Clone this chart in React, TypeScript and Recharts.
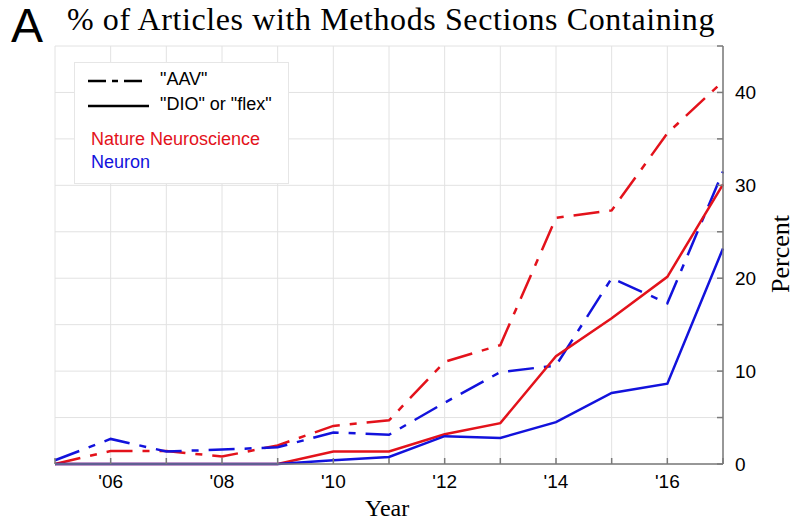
import { LineChart, Line, XAxis, YAxis, CartesianGrid } from "recharts";

const years = [2005, 2006, 2007, 2008, 2009, 2010, 2011, 2012, 2013, 2014, 2015, 2016, 2017];
const natNeuroAAV = [0, 1.4, 1.4, 0.8, 2.0, 4.1, 4.7, 11.0, 12.8, 26.5, 27.3, 35.6, 41.2];
const neuronAAV = [0.4, 2.7, 1.35, 1.55, 1.8, 3.4, 3.15, 6.6, 9.9, 10.6, 20.0, 17.3, 31.5];
const natNeuroDIO = [0, 0, 0, 0, 0, 1.35, 1.35, 3.2, 4.4, 11.6, 15.7, 20.15, 30.1];
const neuronDIO = [0, 0, 0, 0, 0, 0.4, 0.75, 3.0, 2.8, 4.5, 7.65, 8.65, 23.2];
const yTicks = [0, 5, 10, 15, 20, 25, 30, 35, 40, 45];

const data = years.map((year, i) => ({
  year,
  natNeuroAAV: natNeuroAAV[i],
  neuronAAV: neuronAAV[i],
  natNeuroDIO: natNeuroDIO[i],
  neuronDIO: neuronDIO[i],
}));

const RED = "#e3121b";
const BLUE = "#1212dc";
const DASHDOT = "26 10 7 10";
const AXIS = "#7a7a7a";

const sans = "'Liberation Sans', Arial, sans-serif";
const serif = "'Liberation Serif', 'Times New Roman', serif";

export default function App() {
  return (
    <div style={{ position: "absolute", left: 0, top: 0, width: 796, height: 529, background: "#fff" }}>
      <div style={{ position: "absolute", left: 11, top: -2, fontFamily: sans, fontSize: 48, color: "#000" }}>A</div>
      <div
        style={{
          position: "absolute",
          left: 67,
          top: 1,
          fontFamily: serif,
          fontSize: 32,
          letterSpacing: 0.6,
          color: "#000",
          whiteSpace: "nowrap",
        }}
      >
        % of Articles with Methods Sections Containing
      </div>

      <LineChart
        width={796}
        height={529}
        data={data}
        margin={{ top: 46, right: 13, bottom: 35, left: 55 }}
      >
        <CartesianGrid stroke="#e2e2e2" strokeWidth={1} />
        <XAxis
          dataKey="year"
          type="number"
          domain={[2005, 2017]}
          ticks={years}
          interval={0}
          height={30}
          stroke={AXIS}
          strokeWidth={1.5}
          tickSize={-6}
          tickMargin={17}
          tickFormatter={(v) => (v % 2 === 0 && v > 2005 && v < 2017 ? "'" + String(v).slice(2) : "")}
          tick={{ fill: "#000", fontFamily: sans, fontSize: 19 }}
        />
        <XAxis
          xAxisId="top"
          dataKey="year"
          type="number"
          orientation="top"
          domain={[2005, 2017]}
          ticks={years}
          interval={0}
          height={0}
          stroke={AXIS}
          strokeWidth={1.5}
          tickSize={-6}
          tick={false}
        />
        <YAxis
          type="number"
          orientation="right"
          domain={[0, 45]}
          ticks={yTicks}
          interval={0}
          width={60}
          stroke={AXIS}
          strokeWidth={1.5}
          tickSize={-6}
          tickMargin={18}
          tickFormatter={(v) => (v % 10 === 0 ? String(v) : "")}
          tick={{ fill: "#000", fontFamily: sans, fontSize: 19 }}
        />
        <YAxis
          yAxisId="left"
          type="number"
          orientation="left"
          domain={[0, 45]}
          ticks={yTicks}
          interval={0}
          width={0}
          stroke={AXIS}
          strokeWidth={1.5}
          tickSize={-6}
          tick={false}
        />
        <Line type="linear" dataKey="natNeuroAAV" stroke={RED} strokeWidth={2.5} strokeDasharray={DASHDOT} dot={false} isAnimationActive={false} />
        <Line type="linear" dataKey="neuronAAV" stroke={BLUE} strokeWidth={2.5} strokeDasharray={DASHDOT} dot={false} isAnimationActive={false} />
        <Line type="linear" dataKey="natNeuroDIO" stroke={RED} strokeWidth={2.5} dot={false} isAnimationActive={false} />
        <Line type="linear" dataKey="neuronDIO" stroke={BLUE} strokeWidth={2.5} dot={false} isAnimationActive={false} />
      </LineChart>

      {/* legend */}
      <div
        style={{
          position: "absolute",
          left: 74,
          top: 62,
          width: 215,
          height: 122,
          background: "#fff",
          border: "1px solid #e6e6e6",
          boxSizing: "border-box",
          fontFamily: sans,
          fontSize: 18,
        }}
      >
        <svg width={80} height={50} style={{ position: "absolute", left: 12, top: 6 }}>
          <line x1={1} y1={12} x2={56} y2={12} stroke="#000" strokeWidth={2.5} strokeDasharray="18 6 6 6" />
          <line x1={1} y1={37} x2={62} y2={37} stroke="#000" strokeWidth={2.5} />
        </svg>
        <div style={{ position: "absolute", left: 85, top: 6, color: "#000" }}>"AAV"</div>
        <div style={{ position: "absolute", left: 85, top: 31, color: "#000", whiteSpace: "nowrap" }}>"DIO" or "flex"</div>
        <div style={{ position: "absolute", left: 16, top: 66, color: RED, whiteSpace: "nowrap" }}>Nature Neuroscience</div>
        <div style={{ position: "absolute", left: 16, top: 89, color: BLUE }}>Neuron</div>
      </div>

      <div style={{ position: "absolute", left: 365, top: 495, fontFamily: serif, fontSize: 24, color: "#000" }}>Year</div>
      <div
        style={{
          position: "absolute",
          left: 781,
          top: 254,
          transform: "translate(-50%, -50%) rotate(-90deg)",
          fontFamily: serif,
          fontSize: 26,
          color: "#000",
          whiteSpace: "nowrap",
        }}
      >
        Percent
      </div>
    </div>
  );
}
